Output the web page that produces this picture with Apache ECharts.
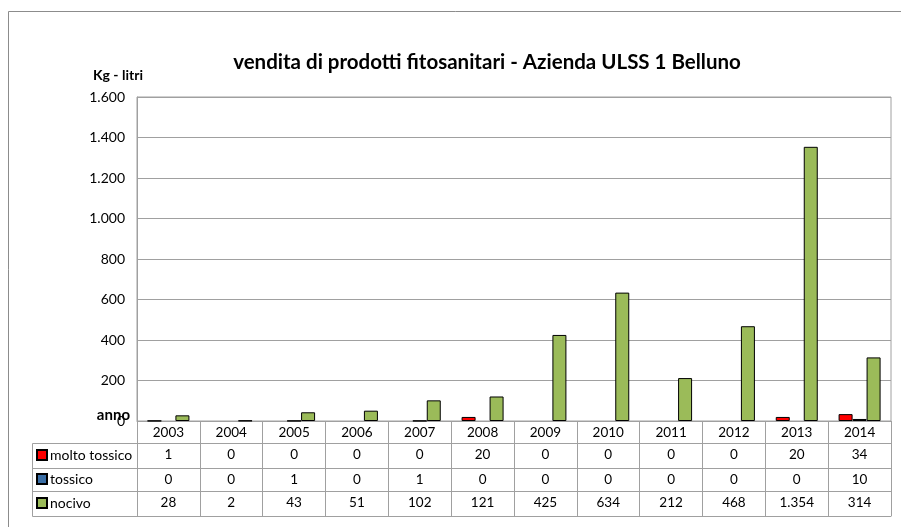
<!DOCTYPE html>
<html>
<head>
<meta charset="utf-8">
<script src="https://cdn.jsdelivr.net/npm/echarts@6/dist/echarts.min.js"></script>
<style>
html,body{margin:0;padding:0;background:#fff;}
#c{width:901px;height:527px;}
</style>
</head>
<body>
<div id="c"></div>
<script>
var years = ['2003','2004','2005','2006','2007','2008','2009','2010','2011','2012','2013','2014'];
var moltoTossico = [1,0,0,0,0,20,0,0,0,0,20,34];
var tossico = [0,0,1,0,1,0,0,0,0,0,0,10];
var nocivo = [28,2,43,51,102,121,425,634,212,468,1354,314];
var seriesNames = ['molto tossico','tossico','nocivo'];
var yTicks = {min:0, max:1600, interval:200};

var FONT = 'Lato';
function fmt(v){ return String(v).replace(/\B(?=(\d{3})+(?!\d))/g,'.'); }
function barData(arr){ return arr.map(function(v){ return v===0 ? {value:v, itemStyle:{borderWidth:0}} : v; }); }

var gridCol = '#a0a0a0';
function rowAxis(data, offset, len, show){
  return {
    type:'category', data:data, gridIndex:0, position:'bottom', offset:offset,
    axisLine:{show:true, lineStyle:{color:gridCol, width:1}},
    axisTick:{show:show, interval:0, length:len, lineStyle:{color:gridCol, width:1}},
    axisLabel:{show:show, interval:0, margin:5, color:'#000', fontFamily:FONT, fontSize:13.5},
    splitLine:{show:false}
  };
}

var chart = echarts.init(document.getElementById('c'), null, {renderer:'canvas'});
var xAxes = [
  rowAxis(years, 0, 22, true),
  rowAxis(moltoTossico.map(fmt), 22, 25, true),
  rowAxis(tossico.map(fmt), 47, 23, true),
  rowAxis(nocivo.map(fmt), 70, 25, true),
  rowAxis(years, 95, 0, false)
];
xAxes[0].name = 'anno';
xAxes[0].nameLocation = 'start';
xAxes[0].nameGap = 7;
xAxes[0].nameMoveOverlap = false;
xAxes[0].nameTextStyle = {fontFamily:FONT, fontSize:15, fontWeight:'bold', color:'#000', verticalAlign:'bottom', lineHeight:11};

var option = {
  animation:false,
  backgroundColor:'#fff',
  title:{
    text:'vendita di prodotti fitosanitari - Azienda ULSS 1 Belluno',
    left:482, textAlign:'center', top:47,
    textStyle:{fontFamily:FONT, fontSize:20.5, fontWeight:'bold', color:'#000'}
  },
  grid:{left:137, right:10, top:97, bottom:106, show:true, borderColor:gridCol, borderWidth:1, containLabel:false},
  legend:{
    orient:'vertical', left:36, top:448, padding:0, itemGap:10,
    itemWidth:10, itemHeight:10, icon:'rect',
    textStyle:{fontFamily:FONT, fontSize:14, color:'#000', lineHeight:14, padding:[0,0,0,-2]},
    data:seriesNames
  },
  xAxis:xAxes,
  yAxis:{
    type:'value', min:yTicks.min, max:yTicks.max, interval:yTicks.interval,
    name:'Kg - litri', nameLocation:'end', nameGap:15,
    nameTextStyle:{fontFamily:FONT, fontSize:14, fontWeight:'bold', color:'#000', padding:[0,38,0,0]},
    axisLine:{show:true, lineStyle:{color:gridCol}},
    axisTick:{show:false},
    axisLabel:{margin:12, color:'#000', fontFamily:FONT, fontSize:14, formatter:function(v){return fmt(v);}},
    splitLine:{show:true, lineStyle:{color:gridCol, width:1}}
  },
  series:[
    {name:seriesNames[0], type:'bar', data:barData(moltoTossico), barWidth:14, barGap:'0%',
     itemStyle:{color:'#ff0000', borderColor:'#000', borderWidth:1}},
    {name:seriesNames[1], type:'bar', data:barData(tossico), barWidth:14, barGap:'0%',
     itemStyle:{color:'#3a6ea5', borderColor:'#000', borderWidth:1}},
    {name:seriesNames[2], type:'bar', data:barData(nocivo), barWidth:14, barGap:'0%',
     itemStyle:{color:'#9bbb59', borderColor:'#000', borderWidth:1}}
  ],
  graphic:[
    {type:'rect', shape:{x:8.5, y:11.5, width:900, height:530}, style:{fill:null, stroke:'#8c8c8c', lineWidth:1}, z:-10, silent:true},
    {type:'line', shape:{x1:32.5, y1:443.5, x2:137, y2:443.5}, style:{stroke:gridCol, lineWidth:1}},
    {type:'line', shape:{x1:32.5, y1:468.5, x2:137, y2:468.5}, style:{stroke:gridCol, lineWidth:1}},
    {type:'line', shape:{x1:32.5, y1:491.5, x2:137, y2:491.5}, style:{stroke:gridCol, lineWidth:1}},
    {type:'line', shape:{x1:32.5, y1:516.5, x2:137, y2:516.5}, style:{stroke:gridCol, lineWidth:1}},
    {type:'line', shape:{x1:32.5, y1:443.5, x2:32.5, y2:516.5}, style:{stroke:gridCol, lineWidth:1}}
  ]
};
chart.setOption(option);
</script>
</body>
</html>
